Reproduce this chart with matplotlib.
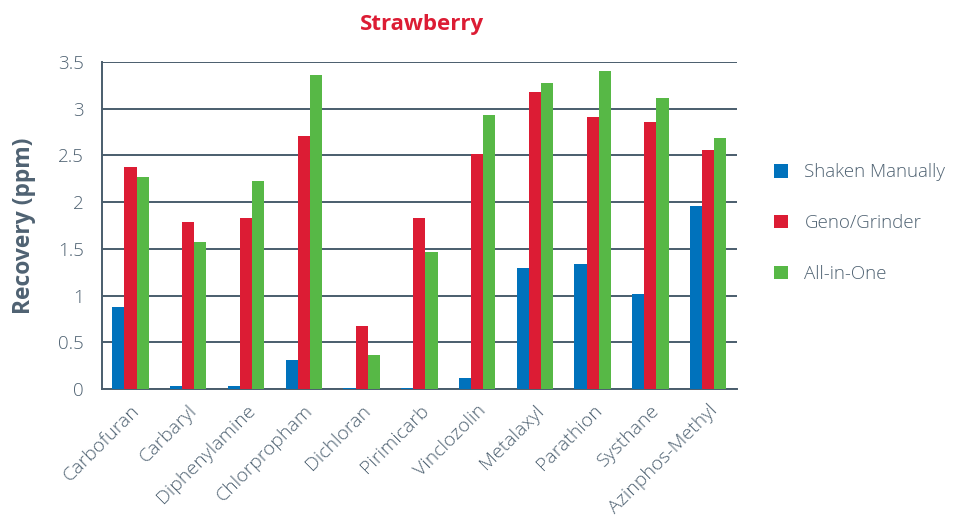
import matplotlib
matplotlib.use('Agg')
import matplotlib.pyplot as plt
import numpy as np

plt.rcParams['font.family'] = ['Open Sans', 'DejaVu Sans']

# data
compounds = ["Carbofuran", "Carbaryl", "Diphenylamine", "Chlorpropham", "Dichloran",
             "Pirimicarb", "Vinclozolin", "Metalaxyl", "Parathion", "Systhane",
             "Azinphos-Methyl"]
shaken = [0.88, 0.03, 0.03, 0.31, 0.01, 0.01, 0.12, 1.30, 1.34, 1.02, 1.96]
geno = [2.38, 1.79, 1.83, 2.71, 0.67, 1.83, 2.52, 3.18, 2.91, 2.86, 2.56]
allinone = [2.27, 1.57, 2.23, 3.36, 0.36, 1.47, 2.93, 3.28, 3.40, 3.11, 2.69]
series_names = ["Shaken Manually", "Geno/Grinder", "All-in-One"]

colors = ['#0072BC', '#DC1C34', '#57B846']
txt = '#4F6272'
grid_c = '#4A5D6C'

fig = plt.figure(figsize=(9.59, 5.19), dpi=100)
ax = fig.add_axes([0.106, 0.2505, 0.6625, 0.63])

x = np.arange(len(compounds))
w = 0.21
for k, vals in enumerate([shaken, geno, allinone]):
    ax.bar(x + (k - 1) * w, vals, width=w, color=colors[k], label=series_names[k],
           zorder=3)

ax.set_ylim(0, 3.5)
ax.set_xlim(-0.5, len(compounds) - 0.5)
ax.set_yticks(np.arange(0, 3.51, 0.5))
ax.set_yticklabels(['0', '0.5', '1', '1.5', '2', '2.5', '3', '3.5'])
ax.yaxis.grid(True, color=grid_c, linewidth=1.4, zorder=0)
ax.tick_params(axis='both', length=0, colors=txt, labelsize=13.5)
ax.tick_params(axis='y', pad=13)
ax.tick_params(axis='x', pad=9)
ax.set_xticks(x)
ax.set_xticklabels(compounds, rotation=45, ha='right', rotation_mode='anchor',
                   color=txt, fontsize=14, fontweight='light')
for t in ax.get_yticklabels():
    t.set_fontweight('light')

for s in ['top', 'right']:
    ax.spines[s].set_visible(False)
ax.spines['left'].set_color(grid_c)
ax.spines['left'].set_linewidth(1.4)
ax.spines['bottom'].set_color(grid_c)
ax.spines['bottom'].set_linewidth(1.4)

ax.set_ylabel("Recovery (ppm)", fontsize=16.5, fontweight='bold', color=txt, labelpad=16)
fig.text(0.44, 0.953, "Strawberry", ha='center', va='center', fontsize=16,
         fontweight='bold', color='#DC1C34')

fig.legend(loc='center left', bbox_to_anchor=(0.789, 0.57), frameon=False,
           labelspacing=1.75, handlelength=0.75, handleheight=0.75,
           handletextpad=0.9, labelcolor=txt, prop={'weight': 'light', 'size': 13.5})

fig.savefig('out.png', dpi=100)
